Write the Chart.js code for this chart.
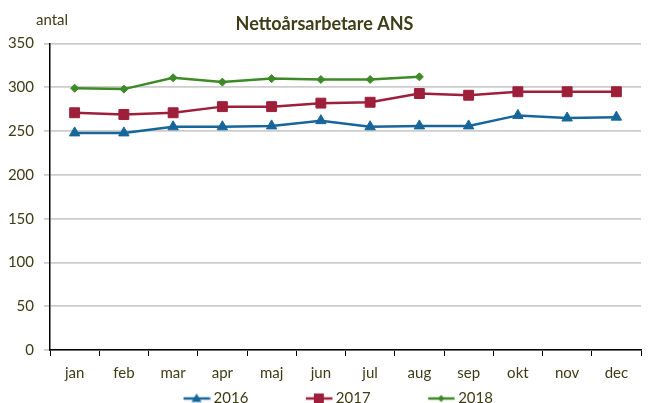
<!DOCTYPE html>
<html>
<head>
<meta charset="utf-8">
<script src="https://cdn.jsdelivr.net/npm/chart.js@4"></script>
<style>
  body { margin: 0; background: #fff; }
  #wrap { width: 649px; height: 403px; }
</style>
</head>
<body>
<div id="wrap"><canvas id="myChart" width="649" height="403"></canvas></div>
<script>
const months = ["jan", "feb", "mar", "apr", "maj", "jun", "jul", "aug", "sep", "okt", "nov", "dec"];
const y2016 = [248, 248, 255, 255, 256, 262, 255, 256, 256, 268, 265, 266];
const y2017 = [271, 269, 271, 278, 278, 282, 283, 293, 291, 295, 295, 295];
const y2018 = [299, 298, 311, 306, 310, 309, 309, 312, null, null, null, null];
const yTicks = [0, 50, 100, 150, 200, 250, 300, 350];

const textColor = "#3d3d17";
const blue = "#17669b";
const red = "#9e1f3a";
const green = "#3d8a26";

// legend icon: short line with the marker in the middle
function legendIcon(color, shape) {
  const c = document.createElement("canvas");
  c.width = 85;
  c.height = 16;
  const ctx = c.getContext("2d");
  ctx.strokeStyle = color;
  ctx.fillStyle = color;
  ctx.lineWidth = 2.5;
  ctx.beginPath();
  ctx.moveTo(58, 8);
  ctx.lineTo(84.5, 8);
  ctx.stroke();
  const cx = 71, cy = 8;
  ctx.beginPath();
  if (shape == "triangle") {
    ctx.moveTo(cx, cy - 5);
    ctx.lineTo(cx + 5, cy + 3.5);
    ctx.lineTo(cx - 5, cy + 3.5);
  } else if (shape == "rect") {
    ctx.rect(cx - 5, cy - 5, 10, 10);
  } else {
    ctx.moveTo(cx, cy - 3.5);
    ctx.lineTo(cx + 3.5, cy);
    ctx.lineTo(cx, cy + 3.5);
    ctx.lineTo(cx - 3.5, cy);
  }
  ctx.closePath();
  ctx.fill();
  return c;
}
const icons = [legendIcon(blue, "triangle"), legendIcon(red, "rect"), legendIcon(green, "diamond")];

const extras = {
  id: "extras",
  afterLayout(chart) {
    // move legend to where it sits in the original
    chart.legend.top += 5;
    chart.legend.bottom += 5;
    chart.legend.left -= 13;
    chart.legend.right -= 13;
  },
  afterDraw(chart) {
    const ctx = chart.ctx;
    ctx.save();
    ctx.font = "15px Lato";
    ctx.fillStyle = textColor;
    ctx.textBaseline = "middle";
    ctx.fillText("antal", 36, 20);
    ctx.restore();
  }
};

new Chart("myChart", {
  type: "line",
  data: {
    labels: months,
    datasets: [
      {
        label: "2016",
        data: y2016,
        borderColor: blue,
        backgroundColor: blue,
        borderWidth: 2.5,
        pointStyle: "triangle",
        pointRadius: 6,
        pointBorderWidth: 1,
        fill: false
      },
      {
        label: "2017",
        data: y2017,
        borderColor: red,
        backgroundColor: red,
        borderWidth: 2.5,
        pointStyle: "rect",
        pointRadius: 7,
        pointBorderWidth: 1,
        fill: false
      },
      {
        label: "2018",
        data: y2018,
        borderColor: green,
        backgroundColor: green,
        borderWidth: 2.5,
        pointStyle: "rectRot",
        pointRadius: 4,
        pointBorderWidth: 1,
        fill: false,
        spanGaps: false
      }
    ]
  },
  options: {
    responsive: false,
    animation: false,
    plugins: {
      title: {
        display: true,
        text: "Nettoårsarbetare ANS",
        color: textColor,
        font: { family: "Lato", size: 18, weight: "bold" },
        padding: { top: 13, bottom: 9 }
      },
      legend: {
        position: "bottom",
        maxHeight: 21,
        labels: {
          color: textColor,
          font: { family: "Lato", size: 15 },
          usePointStyle: true,
          pointStyleWidth: 76,
          padding: 4,
          generateLabels(chart) {
            const items = Chart.defaults.plugins.legend.labels.generateLabels(chart);
            items.forEach((it, i) => { it.pointStyle = icons[i]; });
            return items;
          }
        }
      },
      tooltip: { enabled: false }
    },
    scales: {
      x: {
        offset: true,
        grid: {
          offset: true,
          drawOnChartArea: false,
          color: "#000",
          tickLength: 6
        },
        border: { color: "#000", width: 1.5 },
        ticks: {
          color: textColor,
          font: { family: "Lato", size: 15 },
          padding: 8,
          maxRotation: 0
        },
        afterFit(scale) { scale.height = 32; }
      },
      y: {
        min: 0,
        max: 350,
        afterBuildTicks(scale) { scale.ticks = yTicks.map(v => ({ value: v })); },
        grid: {
          color: "#cccccc",
          lineWidth: 1.8,
          tickLength: 6
        },
        border: { color: "#000", width: 1.5 },
        ticks: {
          color: textColor,
          font: { family: "Lato", size: 15 },
          padding: 10
        },
        afterFit(scale) { scale.width = 50; }
      }
    }
  },
  plugins: [extras]
});
</script>
</body>
</html>
